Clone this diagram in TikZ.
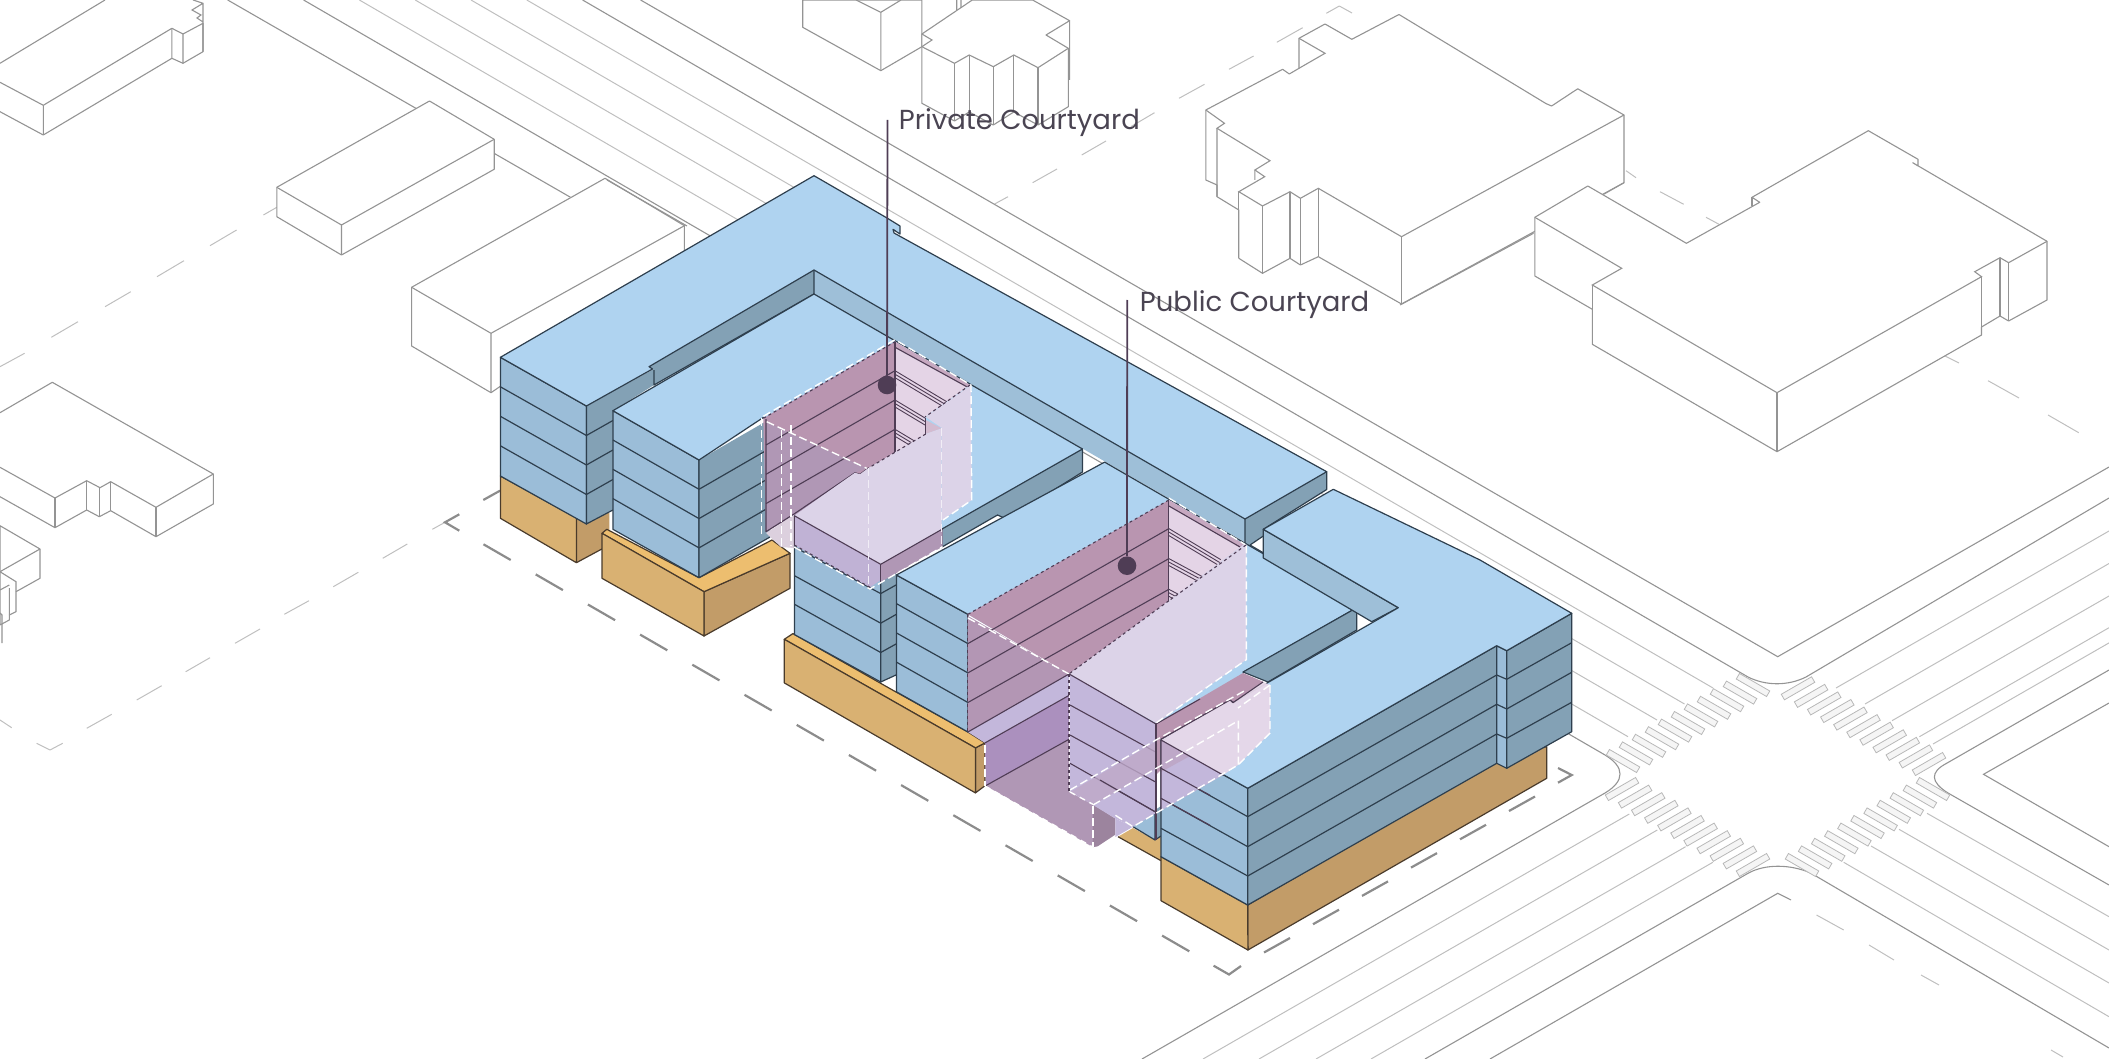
\documentclass[tikz,border=0pt]{standalone}
\usepackage{fontspec}
\setmainfont{Poppins}
\usetikzlibrary{calc}
\definecolor{roof}{HTML}{AFD3F0}
\definecolor{sideblue}{HTML}{9BBDD8}
\definecolor{darkblue}{HTML}{83A1B5}
\definecolor{bandblue}{HTML}{9EBFD8}
\definecolor{edgeblue}{HTML}{2E3F4E}
\definecolor{orL}{HTML}{D9B172}
\definecolor{orR}{HTML}{C29C68}
\definecolor{orT}{HTML}{EDBE6F}
\definecolor{edgeor}{HTML}{4A3B2B}
\definecolor{wallpink}{HTML}{B995B0}
\definecolor{walllow}{HTML}{B097B5}
\definecolor{retpink}{HTML}{E4D4E6}
\definecolor{palevol}{HTML}{DCD3E8}
\definecolor{lavface}{HTML}{C3B7DB}
\definecolor{purdeep}{HTML}{AB90BE}
\definecolor{purshade}{HTML}{9C849E}
\definecolor{edgepur}{HTML}{4F3D55}
\definecolor{inkc}{HTML}{4A4452}
\tikzset{
  road/.style={draw=black!42,line width=1.1pt},
  lane/.style={draw=black!25,line width=1pt},
  cdash/.style={draw=black!25,line width=1pt},
  ctx/.style={fill=white,draw=black!42,line width=1.1pt,line join=round},
  ctxl/.style={draw=black!42,line width=1.1pt},
  lotdash/.style={draw=black!45,line width=2.2pt},
  cwbar/.style={fill=black!4,draw=black!28,line width=0.8pt},
  bl/.style={draw=edgeblue,line width=1.2pt,line join=round},
  orl/.style={draw=edgeor,line width=1.2pt,line join=round},
  pl/.style={draw=edgepur,line width=1.1pt,line join=round},
  wd/.style={draw=white,line width=1.4pt,dash pattern=on 8pt off 4pt},
  kd/.style={draw=edgepur,line width=1.1pt,dash pattern=on 3pt off 3pt},
  leader/.style={draw=edgepur,line width=1.8pt},
  tag/.style={font=\fontsize{27.5}{27.5}\selectfont,text=inkc,anchor=base west,inner sep=0pt},
  pin/.style={circle,fill=edgepur,minimum size=18.6pt,inner sep=0pt},
}
\begin{document}
\begin{tikzpicture}[x=1pt,y=-1pt]
  \useasboundingbox (0,0) rectangle (2109,1059);
  \clip (0,0) rectangle (2109,1059);
  % streets
  \foreach \sx/\ex/\ey in {359.4/1628/736.7,415.2/1657/720,471/1684.5/704,526.8/1713/688}
    \draw[lane] (\sx,0) -- (\ex,\ey);
  \draw[road] (227.7,0) -- (570.5,197.3);
  \draw[road] (303.6,0) -- (1605,755) .. controls (1625,767) and (1625,781) .. (1605,793) -- (1142,1059);
  \draw[road] (582.6,0) -- (1748,677) .. controls (1766,686) and (1788,686) .. (1806,677) -- (2109,498);
  \draw[road] (640.6,0) -- (1777.7,656.7) -- (2109,467);
  \draw[road] (2109,670) -- (1946.6,763.3) .. controls (1930,772) and (1930,782) .. (1948.5,793.3) -- (2109,885);
  \draw[road] (2109,703) -- (1983.5,774.3) -- (2109,846.7);
  \draw[road] (1425,1059) -- (1748.5,873) .. controls (1765,864) and (1790,864) .. (1810.7,873) -- (2109,1048);
  \draw[road] (1490,1059) -- (1777.7,893.3) -- (1791,900);
  \foreach \xa/\ya/\xb/\yb in {1203/1059/1629.3/814,1259/1059/1657.3/830,1316/1059/1685.6/846.7,1371/1059/1712.8/862.3,
      1836/688/2109/531,1865/704/2109/563.5,1892/720.7/2109/596,1919.4/736.7/2109/627.7,1933/744/2109/642.9,
      1843.7/862.3/2109/1016.7,1871/846/2109/983,1899/829.3/2109/950,1927/813.3/2109/916.7}
    \draw[lane] (\xa,\ya) -- (\xb,\yb);
  % crosswalks
  \foreach \i in {0,...,10} {
    \draw[cwbar,shift={(1623+13*\i,761-7.6*\i)},rotate=-30] (-17.5,-3.2) rectangle (17.5,3.2);
    \draw[cwbar,shift={(1798+13.1*\i,688.3+7.57*\i)},rotate=30] (-17.5,-3.2) rectangle (17.5,3.2);
    \draw[cwbar,shift={(1622+13.1*\i,789+7.6*\i)},rotate=30] (-17.5,-3.2) rectangle (17.5,3.2);
    \draw[cwbar,shift={(1802+13.1*\i,865-7.6*\i)},rotate=-30] (-17.5,-3.2) rectangle (17.5,3.2);
  }
  % centre line dashes
  \foreach \xa/\ya/\xb/\yb in {0/366.7/24.6/353.3,51.3/337.3/78/321.7,105/306.7/130.8/291.7,157/276.7/184/260.7,210/245.7/236.6/230,263.4/215/276.8/207.3,
      0/720/11.7/727.7,36.7/743.3/50/750,50/750/62.7/743.3,86.7/728.3/111.7/714.3,136.7/700/161.7/685.7,185.7/671.7/210/657.7,235/643.3/260/629,284.3/614.3/309/600.7,333.3/586.7/358.3/572.3,382.7/558.3/407.3/544,432.3/529.3/445/522.3,
      994.6/204/1008/196.7,1032.6/182.7/1057/169,1081.7/155/1106/141,1130.8/126.7/1154.5/112.7,1179/98.3/1204.5/84.3,1229/69.3/1253.6/56,1276.8/42.3/1302.7/27.7,1326.3/13.3/1339.3/6,1339.3/6/1352/13,
      1626/170.7/1636/177.7,1660/191.7/1683.7/204.3,1706/217.3/1719/224.3,1945/356/1959/363,1988/380.7/2019/398,2048/415/2078.7/432.7,
      1816.5/915/1843.7/930,1869/945/1894/960,1921/975/1939/985,2051/1050/2063/1057}
    \draw[cdash] (\xa,\ya) -- (\xb,\yb);
  % context buildings
  \draw[ctx] (0,82.3) -- (43.3,105.3) -- (171.9,28.3) -- (183,34) -- (203,23.3) -- (203,51.7) -- (183,63.3) -- (171.9,58.3) -- (43.3,135) -- (0,111.7);
  \draw[ctxl] (0,63.3) -- (105,0) (43.3,105.3) -- (43.3,135) (171.9,28.3) -- (171.9,58.3) (183,34) -- (183,63.3);
  \draw[ctxl] (203,51.7) -- (203,3.3) -- (193,0) (203,3.3) -- (192,10) -- (201,15) -- (197,18) -- (203,22);
  \draw[ctx] (276.8,187.3) -- (429.5,101) -- (494.2,139.3) -- (494.2,169.3) -- (341.5,255) -- (276.8,216.7) -- cycle;
  \draw[ctxl] (276.8,187.3) -- (341.5,225) -- (494.2,139.3) (341.5,225) -- (341.5,255);
  \draw[ctx] (411.6,287.3) -- (605,178.3) -- (684.4,225.7) -- (684.4,260) -- (491,392.7) -- (411.6,346) -- cycle;
  \draw[ctxl] (411.6,287.3) -- (491,333.3) -- (684.4,225.7) (491,333.3) -- (491,392.7) (607,180) -- (687,226);
  \draw[ctx] (0,412.7) -- (52.3,382.3) -- (213.3,474) -- (213.3,504) -- (156,536.7) -- (110.7,510.7) -- (99.3,516.7) -- (86.7,510) -- (55,527.7) -- (0,496.7);
  \draw[ctxl] (0,467.3) -- (55,498) -- (86.7,480.7) -- (100,487.7) -- (110.7,481.7) -- (156,507.3) -- (213.3,474);
  \foreach \vx/\vt/\vb in {55/498/527.7,86.7/480.7/510,99.3/487.7/516.7,110.7/481.7/510.7,156/507.3/536.7}
    \draw[ctxl] (\vx,\vt) -- (\vx,\vb);
  \draw[ctx] (0,525.7) -- (40,549) -- (40,578.3) -- (16,591.7) -- (16,611.7) -- (9.3,615) -- (9.3,620) -- (0,625) -- (0,571.7) -- cycle;
  \draw[ctxl] (40,549) -- (0,571.7) -- (16,581.7) -- (16,591.7) (9.3,588) -- (9.3,615) (0,590) -- (9.3,585) (0,613) -- (2,615) -- (2,643);
  \draw[ctx] (802.7,0) -- (802.7,27.3) -- (880.8,70.7) -- (921.9,46.7) -- (921.9,0) -- cycle;
  \draw[ctxl] (856,0) -- (880.8,12.3) -- (901,0) (880.8,12.3) -- (880.8,70.7) (956.7,0) -- (956.7,11.7) (961,0) -- (961,9);
  \draw[ctx] (921.9,34) -- (972.3,0) -- (1032.6,0) -- (1069.6,20.7) -- (1046,35) -- (1068.3,48.3) -- (1068.3,106.7) -- (1038,125) -- (1013.8,112) -- (993.3,125) -- (969.2,112) -- (954.5,121) -- (921.9,103.3) -- cycle;
  \draw[ctxl] (921.9,46.7) -- (954.5,63.3) -- (969.2,55) -- (993.3,66.7) -- (1013.8,55) -- (1038,67.7) -- (1068.3,48.3) (921.9,46.7) -- (932,40) -- (921.9,34) (1069.6,20.7) -- (1069.6,80);
  \foreach \vx/\vt/\vb in {954.5/63.3/121,969.2/55/112,993.3/66.7/125,1013.8/55/112,1038/67.7/125}
    \draw[ctxl] (\vx,\vt) -- (\vx,\vb);
  \draw[ctx] (1205.8,110) -- (1282.6,69.3) -- (1289.3,74) -- (1299,68.3) -- (1299,38.3) -- (1325,24) -- (1351.8,39.3) -- (1399,14.5) -- (1546,103.6) -- (1551.6,106) -- (1577.7,88.8) -- (1624,115) -- (1624,182.7) -- (1401.5,304) -- (1318.3,256.7) -- (1300.4,265) -- (1290,258.3) -- (1262.5,273.3) -- (1238.8,258.3) -- (1238.8,210) -- (1217,196.7) -- (1217,185) -- (1205.8,180) -- cycle;
  \draw[ctxl] (1205.8,110) -- (1224.5,123.3) -- (1217,128.3) -- (1270,160.7) -- (1254.9,170) -- (1264.7,176.7) -- (1238.8,191.7) -- (1262.5,206) -- (1290,191.7) -- (1300.4,198.3) -- (1318.3,188.3) -- (1401.5,236.7) -- (1624,115);
  \draw[ctxl] (1299,38.3) -- (1325,53.3) -- (1299,68.3) (1217,128.3) -- (1217,196.7) (1254.9,170) -- (1254.9,180);
  \foreach \vx/\vt/\vb in {1238.8/191.7/258.3,1262.5/206/273.3,1290/191.7/258.3,1300.4/198.3/265,1318.3/188.3/256.7,1401.5/236.7/304}
    \draw[ctxl] (\vx,\vt) -- (\vx,\vb);
  \draw[ctx] (1534.8,217.3) -- (1587.8,186) -- (1686.4,243.3) -- (1759.7,202.3) -- (1752,197.3) -- (1868.3,130.7) -- (1918,159.3) -- (1918,166) -- (1912.7,162.7) -- (2047,241.3) -- (2047,300) -- (2008.6,321) -- (2000,316) -- (1981.5,327) -- (1981.5,335) -- (1777,451.7) -- (1592.3,344.3) -- (1592.3,309.3) -- (1534.8,276) -- cycle;
  \draw[ctxl] (1534.8,217.3) -- (1621.7,268.3) -- (1592.3,285) -- (1777,392.7) -- (1981.5,276.7) -- (1974.7,271.7) -- (2000,257.7) -- (2008.6,262.7) -- (2047,241.3);
  \draw[ctxl] (1592.3,285) -- (1592.3,309.3) (1777,392.7) -- (1777,451.7) (1981.5,276.7) -- (1981.5,335) (2000,257.7) -- (2000,316) (2008.6,262.7) -- (2008.6,321) (1752,197.3) -- (1752,206);
  \draw[ctxl] (1533.5,233.3) -- (1400,305);
  \draw[ctxl] (1603.6,194.3) -- (1624,182.7);
  % lot line
  \foreach \i in {0,...,13}
    \draw[lotdash] ({483.5+52.2*\i},{544.3+30.1*\i}) -- ({510.7+52.2*\i},{560+30.1*\i});
  \draw[lotdash] (1213.6,965.7) -- (1229,974.5) -- (1241,966);
  \draw[lotdash] (459.3,514.3) -- (445,522.3) -- (459.3,530.7);
  \draw[lotdash] (483.3,500) -- (500,490.7);
  \foreach \i in {0,...,5}
    \draw[lotdash] ({1264+49*\i},{952.5-28.3*\i}) -- ({1290+49*\i},{938-28.3*\i});
  \draw[lotdash] (1558,768) -- (1571.7,775) -- (1558,782.7);
  % first wing, podium
  \fill[orR] (576.4,518) -- (609.3,512.7) -- (609.3,545) -- (576.4,562.7) -- cycle;
  \draw[orl,fill=orL] (500.4,476) -- (576.4,518) -- (576.4,562.7) -- (500.4,518.3) -- cycle;
  \draw[orl] (576.4,562.7) -- (609.3,545);
  % first wing, faces
  \draw[bl,fill=sideblue] (500.4,357.3) -- (586.4,406) -- (586.4,524) -- (500.4,476) -- cycle;
  \foreach \d in {29.5,59,88.5} \draw[bl] (500.4,{357.3+\d}) -- (586.4,{406+\d}) -- (612.9,{391+\d});
  \fill[darkblue] (586.4,406) -- (654,369) -- (654,385) -- (612.9,410.7) -- (612.9,510) -- (586.4,524) -- cycle;
  \foreach \d in {29.5,59,88.5} \draw[bl] (586.4,{406+\d}) -- (612.9,{391+\d});
  \draw[bl] (586.4,406) -- (586.4,524) -- (612.9,510);
  \fill[darkblue] (649,366.7) -- (814,270) -- (814,294) -- (654,385) -- (654,370) -- cycle;
  \fill[bandblue] (814,270) -- (1245,519) -- (1245,545) -- (1250,545) -- (814,294) -- cycle;
  \draw[bl] (814,294) -- (814,270) (654,370) -- (654,385) -- (814,294);
  \draw[bl] (1250,545) -- (1356.7,607.7);
  \fill[darkblue] (1245,519) -- (1326.7,471.7) -- (1326.7,489.5) -- (1263.3,529.3) -- (1263.3,536) -- (1250,545) -- (1245,545) -- cycle;
  \draw[bl] (1245,545) -- (1245,519) (1326.7,471.7) -- (1326.7,489.5) -- (1263.3,529.3) (1263.3,536) -- (1250,545);
  \draw[bl,fill=roof] (500.4,357.3) -- (814,175.7) -- (887,218) -- (900,226) -- (900,234) -- (893,229.3) -- (894,233) -- (1326.7,471.7) -- (1245,519) -- (814,270) -- (649,366.7) -- (652.5,369) -- (586.4,406) -- cycle;
  % second block, podium
  \draw[orl,fill=orR] (704,591.7) -- (790,553.3) -- (790,588.3) -- (704,636) -- cycle;
  \draw[orl,fill=orT] (602,533.3) -- (606.8,529.3) -- (699,577.7) -- (772,540) -- (790,553.3) -- (704,591.7) -- cycle;
  \draw[orl,fill=orL] (602,533.3) -- (704,591.7) -- (704,636) -- (602,578.3) -- cycle;
  % second block, faces and roof
  \draw[bl,fill=sideblue] (612.9,410.7) -- (699,460) -- (699,577.7) -- (612.9,529.3) -- cycle;
  \foreach \d in {29.3,58.6,87.9} \draw[bl] (612.9,{410.7+\d}) -- (699,{460+\d});
  \fill[darkblue] (699,460) -- (770,419) -- (770,537) -- (699,577.7) -- cycle;
  \foreach \d in {29.3,58.6,87.9} \draw[bl] (699,{460+\d}) -- (770,{419+\d});
  \draw[bl] (699,460) -- (699,577.7) -- (770,537);
  \fill[roof] (612.9,410.7) -- (814,294) -- (1082.5,449) -- (880.7,564.3) -- (794.3,515.7) -- (766,531) -- (764,417) -- (699,460) -- cycle;
  \draw[bl] (764,417) -- (699,460) -- (612.9,410.7) -- (814,294) -- (1082.5,449);
  \draw[bl,fill=darkblue] (1082.5,449) -- (1082.5,472) -- (1007,519.3) -- (997.5,515) -- (942,547) -- (942,529) -- cycle;
  % first courtyard
  \fill[wallpink] (763.3,418.3) -- (895,341.7) -- (895,453.3) -- (868,468.3) -- (860,474.3) -- (855,472.7) -- (794,516) -- (766,531.7) -- cycle;
  \fill[walllow] (766,421.7) -- (866.7,468.3) -- (855,472.7) -- (794,516) -- (766,531.7) -- cycle;
  \foreach \d in {29,58.3,87.6} \draw[pl] (766,{416+\d}) -- (895,{341.7+\d});
  \fill[retpink] (895,341.7) -- (970,385) -- (925,417) -- (925.7,434) -- (895,453.3) -- cycle;
  \fill[wallpink!70!retpink] (895,341.7) -- (970,385) -- (966.7,386.7) -- (895,347.3) -- cycle;
  \draw[pl] (895,347.3) -- (966.7,386.7);
  \foreach \d in {0,3.5,7} {
    \draw[pl,line width=0.9pt] (895,{370.7+\d}) -- (946.7,{401.7+\d});
    \draw[pl,line width=0.9pt] (895,{400+\d}) -- (925,{418+\d});
    \draw[pl,line width=0.9pt] (895,{429.3+\d}) -- (915,{441.3+\d});
  }
  \draw[pl] (895,341.7) -- (895,453.3);
  \fill[wallpink!40!retpink] (925.7,420) -- (941.7,428.3) -- (925.7,434) -- cycle;
  \draw[pl] (925.7,418) -- (925.7,434);
  \draw[pl] (766,419) -- (766,531.7) -- (794,514) -- (855,472.7) -- (860,474.3) -- (868,468.3);
  \fill[walllow!45!white] (766,533) -- (794,515) -- (794.3,548) -- (781,547) -- cycle;
  % third block, podium
  \draw[orl,fill=orR] (975.4,747.9) -- (985,742.9) -- (985,785.7) -- (975.4,792.9) -- cycle;
  \draw[orl,fill=orT] (784.3,639.3) -- (792.9,633.6) -- (896,692) -- (967.9,732) -- (985,742.9) -- (975.4,747.9) -- cycle;
  \draw[orl,fill=orL] (784.3,639.3) -- (975.4,747.9) -- (975.4,792.9) -- (784.3,682.9) -- cycle;
  % third block, faces
  \draw[bl,fill=sideblue] (794.5,515.7) -- (880.7,564.3) -- (880.7,682) -- (794.5,634.6) -- cycle;
  \foreach \ya/\yb in {547/593.6,575.7/623.2,604.3/652.5} \draw[bl] (794.5,\ya) -- (880.7,\yb);
  \fill[darkblue] (880.7,564.3) -- (896,556) -- (896,675) -- (880.7,682) -- cycle;
  \foreach \ya/\yb in {593.6/585,623.2/614.5,652.5/644} \draw[bl] (880.7,\ya) -- (896,\yb);
  \draw[bl] (880.7,564.3) -- (880.7,682) -- (896,675);
  % volume over the first courtyard
  \fill[palevol] (925.7,417) -- (971,385) -- (971.7,500) -- (942,520) -- (942,428) -- cycle;
  \fill[palevol] (794.3,515.7) -- (855,472.7) -- (860,474.3) -- (868,468.3) -- (925.7,434) -- (941.7,428.3) -- (941.7,530) -- (880.7,564.3) -- cycle;
  \fill[lavface!85!walllow] (794.3,515.7) -- (880.7,564.3) -- (880.7,580) -- (870,587.3) -- (794.3,545) -- cycle;
  \fill[walllow] (880.7,564.3) -- (942.5,529) -- (942.5,546.7) -- (880.7,582) -- cycle;
  \draw[pl] (794.3,515.7) -- (880.7,564.3) -- (942.5,529);
  \draw[pl] (880.7,564.3) -- (880.7,582);
  \draw[pl] (794.3,515.7) -- (794.3,545);
  \draw[kd] (763.3,418.3) -- (895,341.7) (794.3,545) -- (870,587.3) (970,385) -- (925,417) (925.7,434) -- (868,468.3);
  \draw[wd] (763.3,416.3) -- (895,339.7) -- (971,385) -- (971.7,500) -- (943,520);
  \draw[wd] (761.7,418) -- (761.7,536) (781.7,430) -- (781.7,546) (791,425) -- (791,546);
  \draw[wd] (766.7,421.7) -- (866.7,468.3);
  \draw[wd] (794,547) -- (870,589) -- (942.5,546.7);
  \draw[wd,draw=white!60!palevol] (868.3,468) -- (868.3,587) (941.7,428) -- (941.7,550);
  % fourth block
  \draw[bl,fill=sideblue] (896.4,575) -- (967.9,614.3) -- (967.9,732) -- (896.4,691.8) -- cycle;
  \foreach \ya/\yb in {603.6/643.6,632.9/672.9,662.1/702.5} \draw[bl] (896.4,\ya) -- (967.9,\yb);
  \fill[roof] (896.4,575) -- (1104.6,462.1) -- (1356.7,607.7) -- (1156,724) -- (1070,674) -- (967.9,614.3) -- cycle;
  \draw[bl] (967.9,614.3) -- (896.4,575) -- (1104.6,462.1) -- (1356.7,607.7) -- (1243,673);
  \draw[bl,fill=darkblue] (1356.7,607.7) -- (1356.7,630) -- (1268,682) -- (1243,672) -- cycle;
  % second courtyard
  \fill[wallpink] (967.9,614.3) -- (1168.9,500) -- (1168.9,600.7) -- (1069,674) -- cycle;
  \fill[walllow!70!wallpink] (967.9,616) -- (1069,674) -- (967.9,732) -- cycle;
  \fill[lavface] (967.9,732) -- (1069,674) -- (1069,695.4) -- (985,742.9) -- cycle;
  \fill[retpink] (1168.9,500) -- (1244,544.3) -- (1168.9,600.7) -- cycle;
  \fill[wallpink!70!retpink] (1168.9,500) -- (1244,544) -- (1240,547) -- (1168.9,506) -- cycle;
  \draw[pl] (1168.9,506) -- (1240,547);
  \foreach \d in {0,3.5,7} {
    \draw[pl,line width=0.9pt] (1168.9,{528.6+\d}) -- (1220.7,{559.6+\d});
    \draw[pl,line width=0.9pt] (1168.9,{558.6+\d}) -- (1203,{577+\d});
    \draw[pl,line width=0.9pt] (1168.9,{589.3+\d}) -- (1179.6,{595+\d});
  }
  \foreach \ya/\yb in {643.6/528.6,672.9/558.6,702.5/589.3} \draw[pl] (967.9,\ya) -- (1168.9,\yb);
  \draw[pl] (1168.9,500) -- (1168.9,600.7);
  \fill[purdeep] (985,742.9) -- (1069,695.4) -- (1069,739.3) -- (985.7,785.7) -- cycle;
  \fill[walllow] (985.7,785.7) -- (1069,739.3) -- (1069,791.8) -- (1092.9,804.3) -- (1092.9,847.1) -- cycle;
  \fill[purshade] (1092.9,804.3) -- (1115.4,818.6) -- (1115.4,834.6) -- (1097.5,846.4) -- (1092.9,847.1) -- cycle;
  \draw[pl] (967.9,732) -- (1069,674) (985,742.9) -- (1069,695.4) (985.7,785.7) -- (1069,739.3);
  \fill[lavface] (1115.4,818.6) -- (1133,826.7) -- (1115.4,837) -- cycle;
  % podium under the fifth part
  \fill[orL] (1118,836.7) -- (1133,828) -- (1155,840) -- (1161,836) -- (1161,860.7) -- cycle;
  \draw[orl] (1118,836.7) -- (1161,860.7);
  \fill[sideblue] (1133,826.7) -- (1155,813) -- (1155,840) -- cycle;
  \fill[darkblue] (1155,810) -- (1161,806) -- (1161,836) -- (1155,840) -- cycle;
  \draw[bl] (1133,826.7) -- (1155,840) -- (1161,836) (1155,813) -- (1155,840);
  % fifth part, purple front
  \fill[lavface] (1070,674) -- (1156,724) -- (1156,813) -- (1133,826.7) -- (1115.4,818.6) -- (1093,805) -- (1070,791.8) -- cycle;
  \foreach \ya/\yb in {705/751.7,735/781.7,763.3/811.7} \draw[pl] (1070,\ya) -- (1155,\yb);
  \fill[wallpink!45!lavface,opacity=0.8] (1070.7,791.8) -- (1156.4,741) -- (1156.4,768) -- (1093,805) -- cycle;
  \draw[pl] (1100,780) -- (1155,811.7);
  % volume over the second courtyard
  \fill[palevol] (1069,673.9) -- (1168.9,600.7) -- (1244,544.5) -- (1246.4,545.4) -- (1246.4,659.6) -- (1156.4,723.2) -- cycle;
  \draw[pl] (1069,673.9) -- (1156,724);
  % pink slab by the front wing
  \fill[wallpink] (1156,724) -- (1243,673) -- (1263,681.7) -- (1233,702.7) -- (1230,700) -- (1160.7,739.3) -- (1160.7,770) -- (1156,775) -- cycle;
  \draw[pl] (1156,724) -- (1156,840);
  \draw[pl] (1156,724) -- (1200,699);
  % front wing, podium
  \draw[orl,fill=orR] (1247.7,905) -- (1506.7,755) -- (1546.7,746.7) -- (1546.7,778.3) -- (1247.9,950) -- cycle;
  \draw[orl,fill=orL] (1161,856.7) -- (1247.7,905) -- (1247.9,950) -- (1161,900.7) -- cycle;
  % front wing, faces
  \draw[bl,fill=bandblue] (1263.3,529.3) -- (1398.3,607.7) -- (1371.7,621.7) -- (1263.3,558) -- cycle;
  \draw[bl,fill=sideblue] (1161,740) -- (1247.7,788.3) -- (1247.7,905) -- (1161,856.7) -- cycle;
  \foreach \ya/\yb in {768.3/816.7,798.3/846.7,828.3/876} \draw[bl] (1161,\ya) -- (1247.7,\yb);
  \draw[bl,fill=darkblue] (1247.7,788.3) -- (1496.7,645.7) -- (1496.7,763.3) -- (1247.7,905) -- cycle;
  \foreach \ya/\yb in {816.7/675,846.7/704.3,876/734} \draw[bl] (1247.7,\ya) -- (1496.7,\yb);
  \draw[bl,fill=sideblue] (1496.7,645.7) -- (1506.7,650.7) -- (1506.7,768.3) -- (1496.7,763.3) -- cycle;
  \foreach \ya/\yb in {675/679.3,704.3/709,734/738.3} \draw[bl] (1496.7,\ya) -- (1506.7,\yb);
  \draw[bl,fill=darkblue] (1506.7,650.7) -- (1571.7,613.3) -- (1571.7,731.7) -- (1506.7,768.3) -- cycle;
  \foreach \ya/\yb in {679.3/642.7,709/672.3,738.3/702.3} \draw[bl] (1506.7,\ya) -- (1571.7,\yb);
  \draw[bl,fill=roof] (1333.3,489.3) -- (1263.3,529.3) -- (1398.3,607.7) -- (1268.3,682.3) -- (1233,702.7) -- (1230,700) -- (1161,740) -- (1247.7,788.3) -- (1496.7,645.7) -- (1506.7,650.7) -- (1571.7,613.3) -- (1480,560) -- cycle;
  % overlay on the front wing
  \fill[retpink!90!white,opacity=0.95] (1161,740) -- (1230,700) -- (1233,702.7) -- (1263,682) -- (1270,685) -- (1270,733) -- (1238,765) -- (1223,775) -- cycle;
  \fill[lavface] (1161,740) -- (1223,775) -- (1161,810.6) -- cycle;
  \fill[wallpink!45!lavface] (1161,740) -- (1190,756) -- (1161,772) -- cycle;
  \foreach \ya in {768.3,798.3} \draw[pl] (1161,\ya) -- (1210,{\ya+27});
  \draw[pl] (1161,740) -- (1223,775) (1161,740) -- (1161,811) (1160.7,739.3) -- (1230,700) -- (1233,702.7) -- (1263,682);
  \draw[wd] (1070,790) -- (1156,740) -- (1246,690);
  \draw[wd] (1093,805) -- (1238.3,720.7) -- (1238.3,765);
  \draw[wd] (1270,685) -- (1270,733) -- (1238,765) -- (1133,826.7) -- (1115,815);
  \draw[wd] (1270,685) -- (1238,708);
  \draw[wd] (1246.4,545.4) -- (1246.4,659.6) -- (1156,723);
  % dashes of the second courtyard
  \draw[wd] (967.9,618) -- (1069,674);
  \draw[wd] (985,745) -- (985,786) (1092.9,806) -- (1092.9,847);
  \draw[wd] (1168.9,498) -- (1246,545);
  \draw[kd] (967.9,614.3) -- (1168.9,500) (1168.9,600.7) -- (1069,673.9) (1246,545) -- (1168.9,600.7);
  \draw[kd] (967.9,614.3) -- (967.9,732) (1069,674) -- (1069,791.8);
  \draw[wd,dash pattern=on 6pt off 5pt] (985,786) -- (1092.9,847.1) (1070,792) -- (1092.9,804.3);
  % labels and leaders
  \node[tag] (private) at (898.7,130) {Private Courtyard};
  \node[tag] (public) at (1139.7,311.7) {Public Courtyard};
  \node[pin] (privatedot) at (887,385) {};
  \node[pin] (publicdot) at (1127,565.7) {};
  \coordinate (privatetop) at (887.5,120);
  \coordinate (publictop) at (1127.2,300);
  \draw[leader] (privatetop) -- (privatedot);
  \draw[leader] (publictop) -- (publicdot);
\end{tikzpicture}
\end{document}
